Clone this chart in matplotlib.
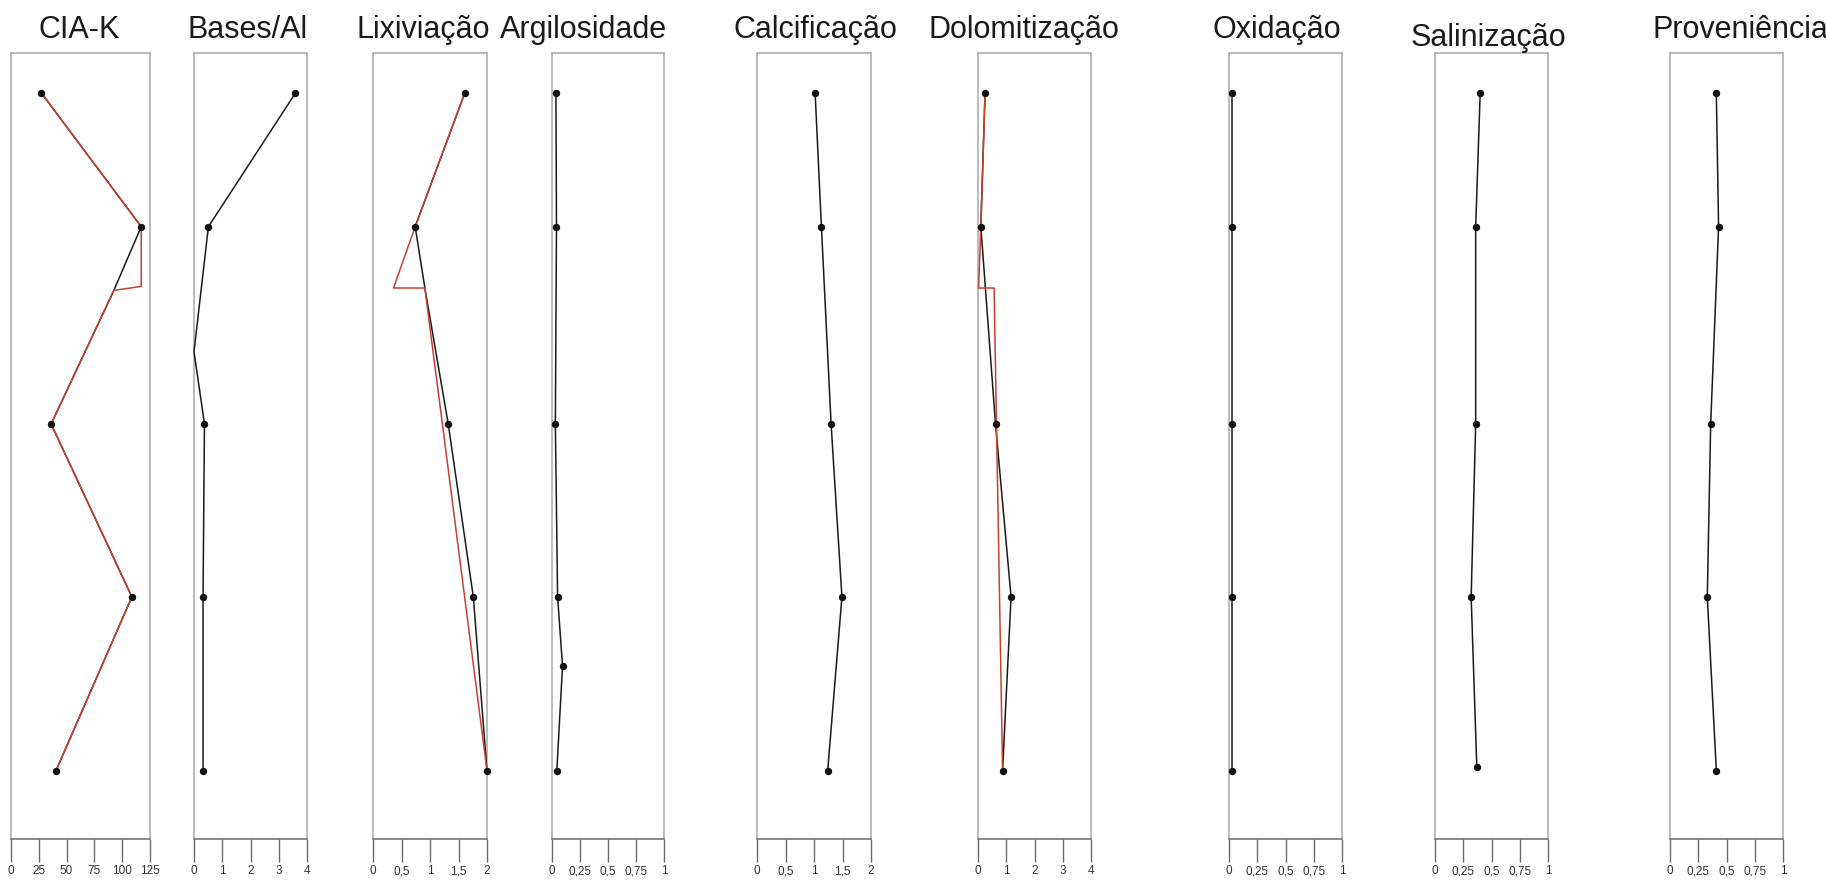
import matplotlib
matplotlib.use("Agg")
import matplotlib.pyplot as plt

plt.rcParams['font.family'] = ['Liberation Sans', 'DejaVu Sans']

W, H, DPI = 1826, 882, 100

# ---------------- data ----------------
titles = ["CIA-K", "Bases/Al", "Lixiviação", "Argilosidade", "Calcificação",
          "Dolomitização", "Oxidação", "Salinização", "Proveniência"]

# relative depth in the profile (0 = top of column, 100 = base)
rows = [5.1, 22.1, 47.2, 69.2, 91.3]

cia_depth = [5.1, 22.1, 30.2, 47.2, 69.2, 91.3]
cia_k = [27.4, 117.1, 92.5, 36.1, 108.7, 40.5]
cia_red_depth = [5.1, 22.1, 29.7, 30.2, 47.2, 69.2, 91.3]
cia_red = [27.4, 117.1, 117.1, 92.5, 36.1, 108.7, 40.5]

bases_depth = [5.1, 22.1, 38.0, 47.2, 69.2, 91.3]
bases_al = [3.59, 0.51, 0.0, 0.37, 0.32, 0.32]

lix_depth = [5.1, 22.1, 29.9, 47.2, 69.2, 91.3]
lixiviacao = [1.61, 0.74, 0.91, 1.32, 1.76, 2.0]
lix_red_depth = [5.1, 22.1, 29.9, 29.9, 91.3]
lix_red = [1.61, 0.74, 0.36, 0.91, 2.0]

argil_depth = [5.1, 22.1, 47.2, 69.2, 78.0, 91.3]
argilosidade = [0.035, 0.04, 0.03, 0.05, 0.094, 0.043]

calcificacao = [1.02, 1.13, 1.30, 1.49, 1.24]

dolomitizacao = [0.25, 0.10, 0.62, 1.17, 0.87]
dolo_red_depth = [5.1, 22.1, 29.9, 29.9, 91.3]
dolo_red = [0.25, 0.10, 0.02, 0.57, 0.87]

oxidacao = [0.03, 0.03, 0.03, 0.03, 0.03]

salin_depth = [5.1, 22.1, 47.2, 69.2, 90.9]
salinizacao = [0.40, 0.36, 0.36, 0.32, 0.37]

proveniencia = [0.41, 0.43, 0.36, 0.33, 0.41]

ticks = [
    [0, 25, 50, 75, 100, 125],
    [0, 1, 2, 3, 4],
    [0, 0.5, 1, 1.5, 2],
    [0, 0.25, 0.5, 0.75, 1],
    [0, 0.5, 1, 1.5, 2],
    [0, 1, 2, 3, 4],
    [0, 0.25, 0.5, 0.75, 1],
    [0, 0.25, 0.5, 0.75, 1],
    [0, 0.25, 0.5, 0.75, 1],
]
tick_labels = [
    ["0", "25", "50", "75", "100", "125"],
    ["0", "1", "2", "3", "4"],
    ["0", "0,5", "1", "1,5", "2"],
    ["0", "0,25", "0,5", "0,75", "1"],
    ["0", "0,5", "1", "1,5", "2"],
    ["0", "1", "2", "3", "4"],
    ["0", "0,25", "0,5", "0,75", "1"],
    ["0", "0,25", "0,5", "0,75", "1"],
    ["0", "0,25", "0,5", "0,75", "1"],
]

# black series: (x, depth, marker indices)
black = [
    (cia_k, cia_depth, [0, 1, 3, 4, 5]),
    (bases_al, bases_depth, [0, 1, 3, 4, 5]),
    (lixiviacao, lix_depth, [0, 1, 3, 4, 5]),
    (argilosidade, argil_depth, [0, 1, 2, 3, 4, 5]),
    (calcificacao, rows, [0, 1, 2, 3, 4]),
    (dolomitizacao, rows, [0, 1, 2, 3, 4]),
    (oxidacao, rows, [0, 1, 2, 3, 4]),
    (salinizacao, salin_depth, [0, 1, 2, 3, 4]),
    (proveniencia, rows, [0, 1, 2, 3, 4]),
]
red = {0: (cia_red, cia_red_depth), 2: (lix_red, lix_red_depth), 5: (dolo_red, dolo_red_depth)}

# ---------------- layout (pixels) ----------------
boxes = [(11, 150), (194, 307), (373, 487), (552, 664), (757, 871),
         (978, 1091), (1229, 1342), (1435, 1548), (1670, 1783)]
box_top, box_bottom = 53, 839
title_x = [79, 248, 423, 583, 815, 1024, 1277, 1488, 1740]
title_base = [38, 38, 38, 38, 38, 38, 38, 46, 38]

RED = "#c8402e"

fig = plt.figure(figsize=(W / DPI, H / DPI), dpi=DPI)
fig.patch.set_facecolor("white")

for i, (l, r) in enumerate(boxes):
    ax = fig.add_axes([l / W, 1 - box_bottom / H, (r - l) / W, (box_bottom - box_top) / H])
    ax.set_xlim(ticks[i][0], ticks[i][-1])
    ax.set_ylim(100, 0)
    for s in ["left", "right", "top"]:
        ax.spines[s].set_color("#a8a8a8")
        ax.spines[s].set_linewidth(1.1)
    ax.spines["bottom"].set_color("#6a6a6a")
    ax.spines["bottom"].set_linewidth(1.1)
    ax.set_yticks([])
    ax.set_xticks(ticks[i])
    ax.set_xticklabels(tick_labels[i])
    ax.tick_params(axis="x", direction="out", length=16.5, width=1.0,
                   color="#6a6a6a", pad=2.5, labelsize=8.5, labelcolor="#333333")

    xs, ds, mk = black[i]
    ax.plot(xs, ds, color="#1a1a1a", lw=1.1, zorder=3, clip_on=False)
    if i in red:
        rx, rd = red[i]
        ax.plot(rx, rd, color=RED, lw=1.1, zorder=4, clip_on=False)
    ax.plot([xs[k] for k in mk], [ds[k] for k in mk], linestyle="none", marker="o",
            ms=4.3, color="#111111", zorder=5, clip_on=False)

    fig.text(title_x[i] / W, 1 - title_base[i] / H, titles[i], ha="center",
             va="baseline", fontsize=22, color="#1a1a1a")

fig.savefig("out.png", dpi=DPI, facecolor="white")
